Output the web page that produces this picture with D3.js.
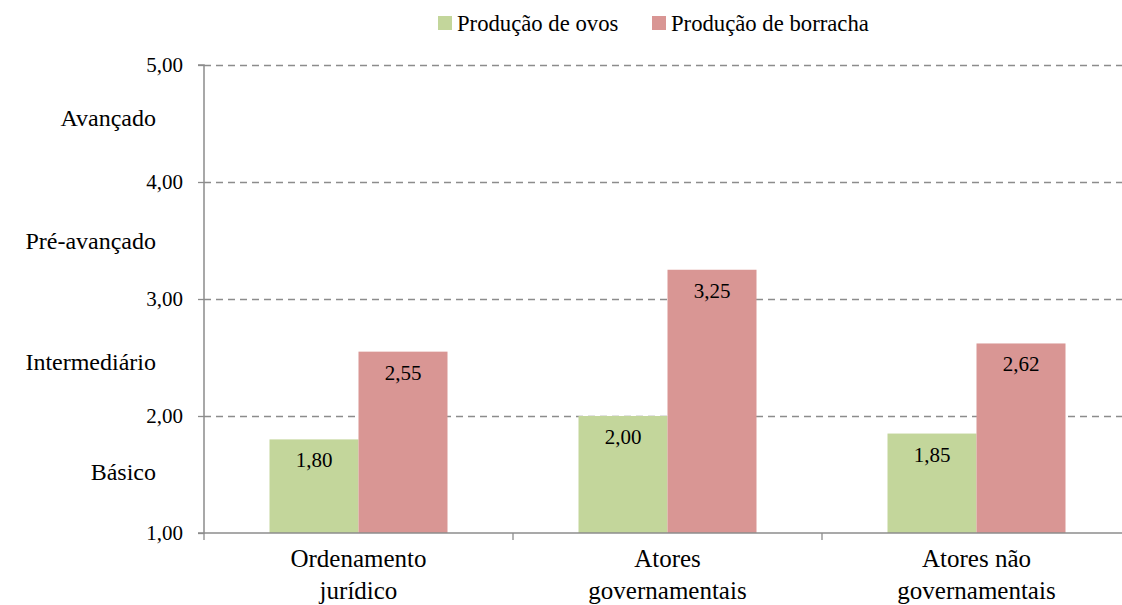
<!DOCTYPE html>
<html>
<head>
<meta charset="utf-8">
<script src="https://cdn.jsdelivr.net/npm/d3@7"></script>
<style>
    body { margin: 0; background: #fff; }
    svg { font-family: "Liberation Serif", "Times New Roman", Times, "DejaVu Serif", serif; }
    svg text { font-family: "Liberation Serif", "Times New Roman", Times, "DejaVu Serif", serif; fill: #000; }
</style>
</head>
<body>
<svg id="chart" width="1122" height="605"></svg>
<script>
var categories = [["Ordenamento", "jurídico"], ["Atores", "governamentais"], ["Atores não", "governamentais"]],
    seriesNames = ["Produção de ovos", "Produção de borracha"],
    ovos = [1.80, 2.00, 1.85],
    borracha = [2.55, 3.25, 2.62],
    yTicks = [1, 2, 3, 4, 5],
    levelNames = ["Básico", "Intermediário", "Pré-avançado", "Avançado"],
    levelValues = [1.52, 2.46, 3.5, 4.55];

var colors = ["#c3d69b", "#d99694"],
    serif = "'Liberation Serif', 'Times New Roman', Times, 'DejaVu Serif', serif",
    fmt = function(v) { return d3.format(".2f")(v).replace(".", ","); };

var svg = d3.select("#chart"),
    plotLeft = 204, plotRight = 1131, plotTop = 65, plotBottom = 533,
    groupWidth = 178;

var catKeys = categories.map(function(c) { return c.join(" "); });

var x0 = d3.scaleBand().domain(catKeys).range([plotLeft, plotRight]).padding(0);
var x1 = d3.scaleBand().domain(seriesNames).range([0, groupWidth]).padding(0);
var y = d3.scaleLinear().domain([1, 5]).range([plotBottom, plotTop]);
var groupOffset = (x0.bandwidth() - groupWidth) / 2;

// gridlines
svg.append("g")
    .selectAll("line")
    .data(yTicks.filter(function(t) { return t > 1; }))
    .enter().append("line")
        .attr("x1", plotLeft)
        .attr("x2", plotRight)
        .attr("y1", function(d) { return y(d) + 0.5; })
        .attr("y2", function(d) { return y(d) + 0.5; })
        .attr("stroke", "#8c8c8c")
        .attr("stroke-width", 1.3)
        .attr("stroke-dasharray", "7,5");

// bars
var rows = catKeys.map(function(k, i) {
    return { key: k, values: [ovos[i], borracha[i]] };
});

var groups = svg.append("g")
    .selectAll("g")
    .data(rows)
    .enter().append("g")
        .attr("transform", function(d) { return "translate(" + (x0(d.key) + groupOffset) + ",0)"; });

groups.selectAll("rect")
    .data(function(d) { return d.values.map(function(v, j) { return { name: seriesNames[j], value: v, j: j }; }); })
    .enter().append("rect")
        .attr("x", function(d) { return x1(d.name); })
        .attr("y", function(d) { return y(d.value); })
        .attr("width", x1.bandwidth())
        .attr("height", function(d) { return plotBottom - y(d.value); })
        .attr("fill", function(d) { return colors[d.j]; });

groups.selectAll("text")
    .data(function(d) { return d.values.map(function(v, j) { return { name: seriesNames[j], value: v }; }); })
    .enter().append("text")
        .attr("x", function(d) { return x1(d.name) + x1.bandwidth() / 2; })
        .attr("y", function(d) { return y(d.value) + 28; })
        .attr("text-anchor", "middle")
        .attr("font-family", serif)
        .style("font-size", "21px")
        .text(function(d) { return fmt(d.value); });

// y axis
var yAxis = d3.axisLeft(y).tickValues(yTicks).tickSize(6).tickPadding(15).tickFormat(fmt);
var gy = svg.append("g").attr("transform", "translate(" + plotLeft + ",0)").call(yAxis)
    .attr("font-family", serif);
gy.select(".domain").attr("stroke", "#8c8c8c").attr("stroke-width", 1.5).attr("d", "M-6," + plotTop + "H0V" + plotBottom + "H-6");
gy.selectAll(".tick line").attr("stroke", "#8c8c8c").attr("stroke-width", 1.3);
gy.selectAll(".tick text")
    .attr("font-family", serif)
    .style("font-size", "21px")
    .attr("fill", "#000");

// level labels
svg.append("g")
    .selectAll("text")
    .data(levelNames)
    .enter().append("text")
        .attr("x", 156)
        .attr("y", function(d, i) { return y(levelValues[i]) + 8; })
        .attr("text-anchor", "end")
        .attr("font-family", serif)
        .style("font-size", "24px")
        .text(function(d) { return d; });

// x axis
var xAxis = d3.axisBottom(x0).tickSize(0).tickFormat("");
var gx = svg.append("g").attr("transform", "translate(0," + plotBottom + ")").call(xAxis);
gx.select(".domain").attr("stroke", "#8c8c8c").attr("stroke-width", 1.5).attr("d", "M" + plotLeft + ",0H" + plotRight);
gx.selectAll(".tick").remove();

gx.selectAll("line.sep")
    .data(catKeys)
    .enter().append("line")
        .attr("class", "sep")
        .attr("x1", function(d) { return x0(d); })
        .attr("x2", function(d) { return x0(d); })
        .attr("y1", 0)
        .attr("y2", 7)
        .attr("stroke", "#8c8c8c")
        .attr("stroke-width", 1.3);

var catLabels = svg.append("g")
    .selectAll("text")
    .data(categories)
    .enter().append("text")
        .attr("text-anchor", "middle")
        .attr("x", function(d, i) { return x0(catKeys[i]) + x0.bandwidth() / 2; })
        .attr("y", 567)
        .attr("font-family", serif)
        .style("font-size", "25px");

catLabels.selectAll("tspan")
    .data(function(d) { return d; })
    .enter().append("tspan")
        .attr("x", function() { return d3.select(this.parentNode).attr("x"); })
        .attr("dy", function(d, i) { return i === 0 ? 0 : 32; })
        .text(function(d) { return d; });

// legend
var legendX = [438, 652];
var legend = svg.append("g")
    .selectAll("g")
    .data(seriesNames)
    .enter().append("g")
        .attr("transform", function(d, i) { return "translate(" + legendX[i] + ",16)"; });

legend.append("rect")
    .attr("width", 14)
    .attr("height", 14)
    .attr("fill", function(d, i) { return colors[i]; });

legend.append("text")
    .attr("x", 19)
    .attr("y", 15)
    .attr("font-family", serif)
    .style("font-size", "22.7px")
    .text(function(d) { return d; });
</script>
</body>
</html>
